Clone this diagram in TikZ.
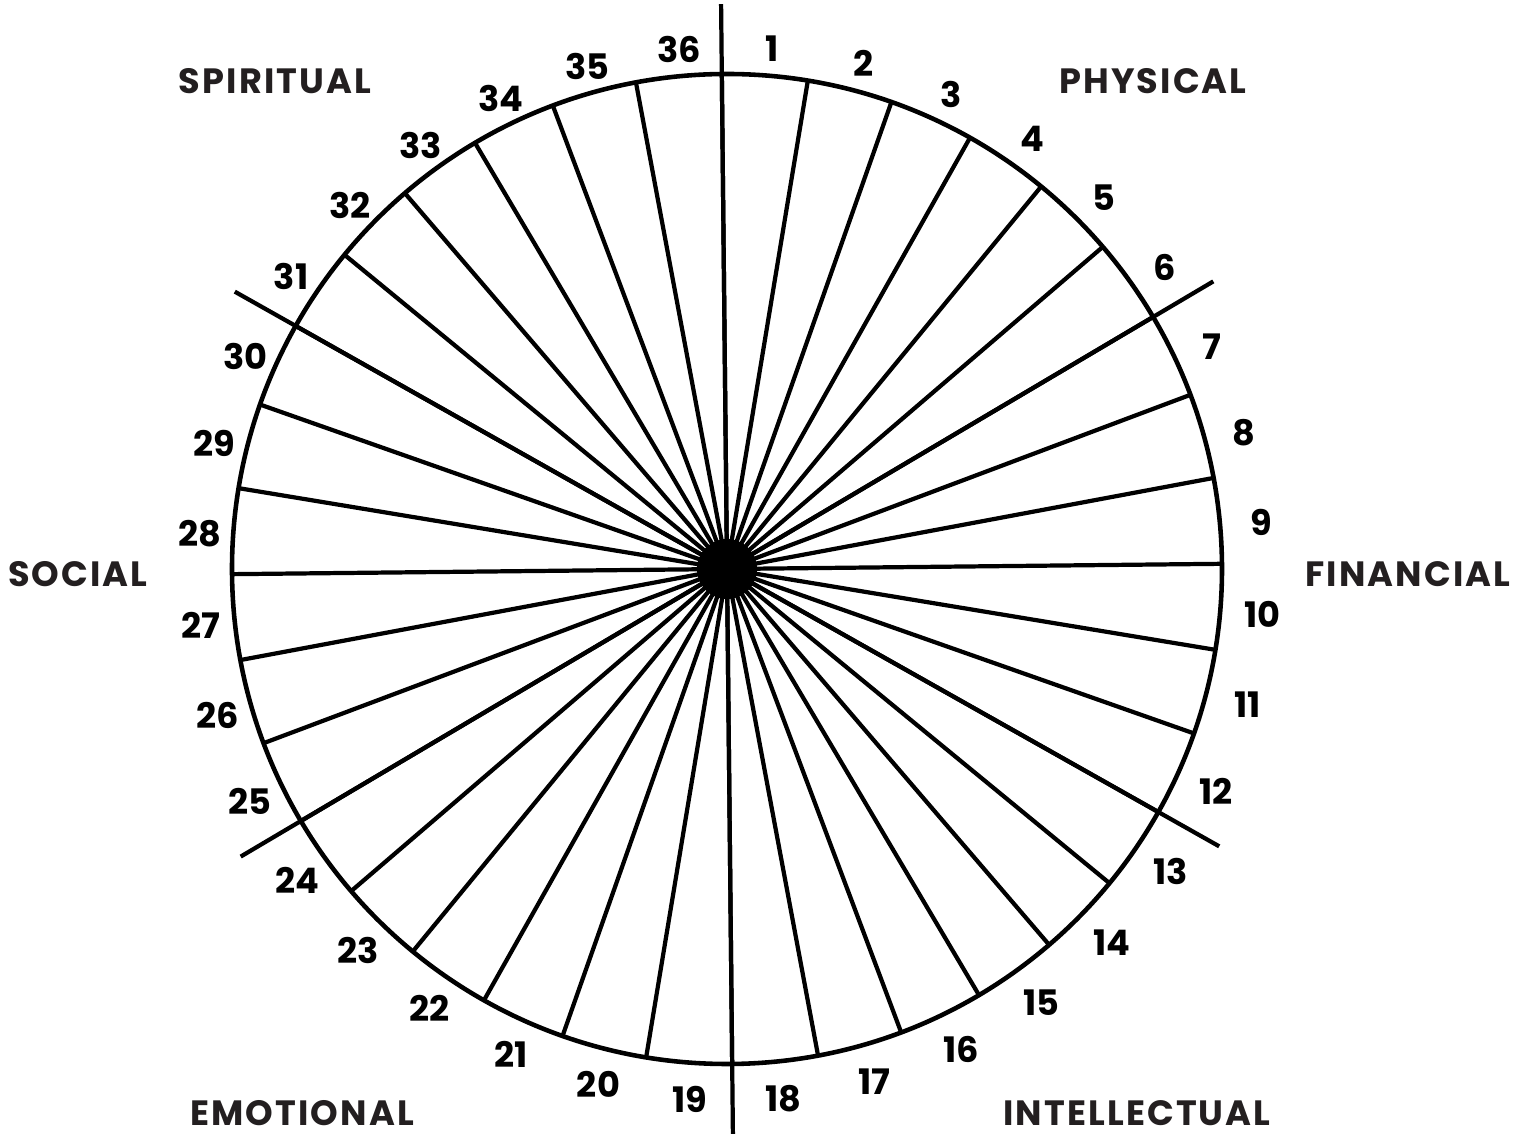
\documentclass[tikz,border=0pt]{standalone}
\usepackage{fontspec}
\setmainfont{Poppins}
\newfontfamily\areafont{Poppins}[LetterSpace=6]
\usetikzlibrary{positioning,calc}
\definecolor{inkgray}{HTML}{231F20}

\begin{document}
\begin{tikzpicture}[
  spoke/.style={line width=1.2pt},
  num/.style={font=\bfseries\fontsize{10}{10}\selectfont, text=black, inner sep=0pt},
  area/.style={font=\areafont\bfseries\fontsize{10}{10}\selectfont, text=inkgray, inner sep=0pt}
]
  \useasboundingbox (-7.27,-5.69) rectangle (8.06,5.69);
  \coordinate (c) at (0,0);
  \coordinate (nc) at (0.04,-0.05);
  \draw[line width=1.3pt] (c) circle (4.95);
  % spokes, one every 10 degrees
  \foreach \i in {0,...,35} {
    \draw[spoke] (c) -- ++({90.6-10*\i}:4.95);
  }
  % the three long axes
  \foreach \a in {90.6, 30.6, -29.4} {
    \draw[spoke] ($(c)+(\a:5.65)$) -- ($(c)+(\a+180:5.65)$);
  }
  \fill (c) circle (0.3);
  % numbers
  \foreach \n in {1,...,36} {
    \node[num] (n\n) at ($(nc)+({95.6-10*\n}:5.33 and 5.27)$) {\n};
  }
  % areas
  \node[area] (physical) at (4.26,4.88) {PHYSICAL};
  \node[area] (financial) at (6.81,-0.05) {FINANCIAL};
  \node[area] (intellectual) at (4.10,-5.44) {INTELLECTUAL};
  \node[area] (emotional) at (-4.25,-5.44) {EMOTIONAL};
  \node[area] (social) at (-6.49,-0.05) {SOCIAL};
  \node[area] (spiritual) at (-4.52,4.88) {SPIRITUAL};
\end{tikzpicture}
\end{document}
